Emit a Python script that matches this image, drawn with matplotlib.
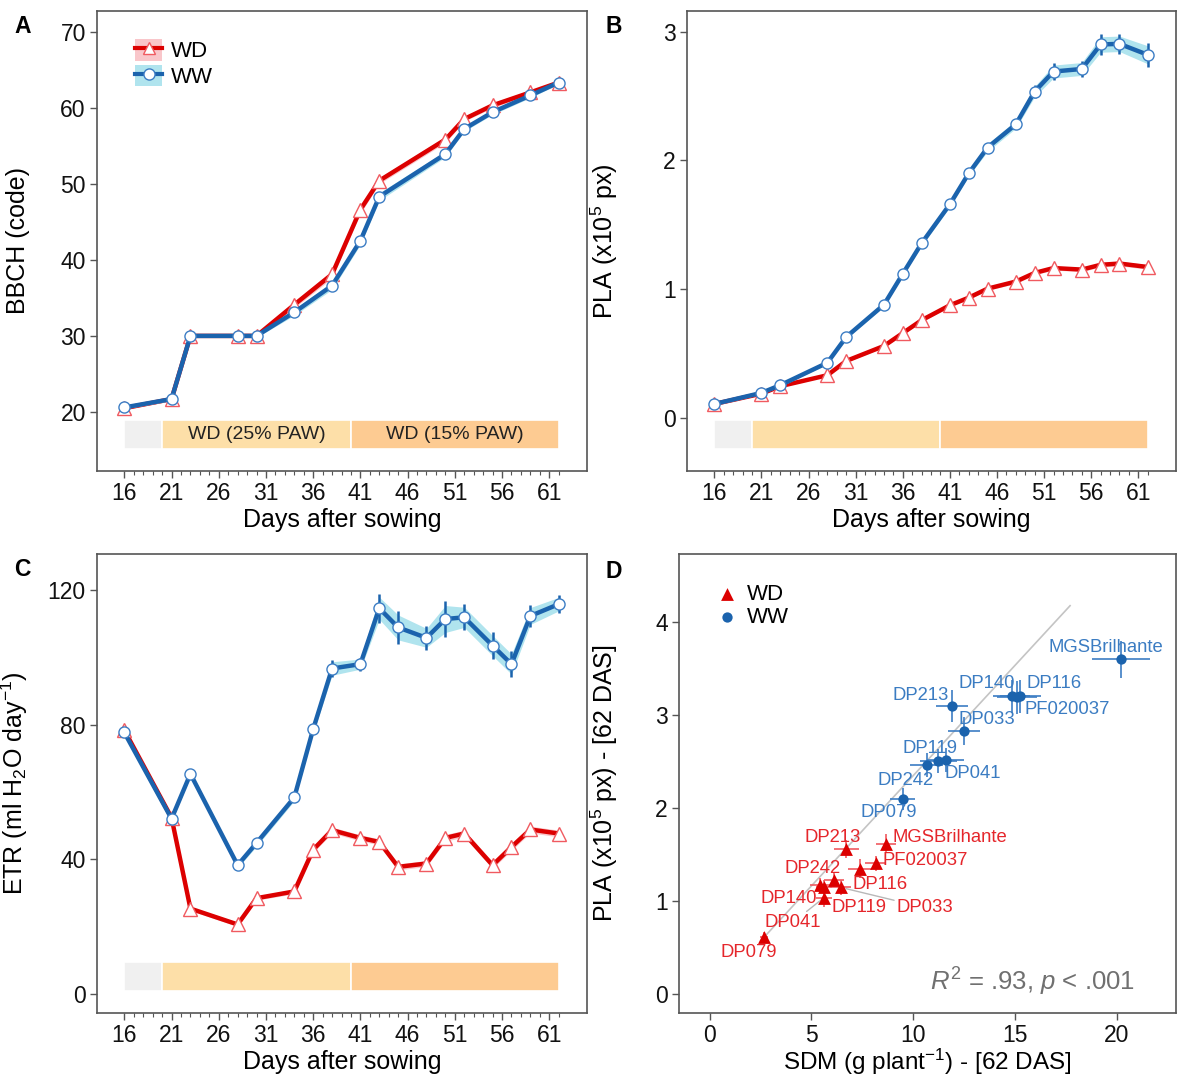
import numpy as np
import matplotlib
matplotlib.use("Agg")
import matplotlib.pyplot as plt
from matplotlib.patches import Patch, Rectangle
from matplotlib.lines import Line2D
from matplotlib.ticker import FixedLocator

plt.rcParams['font.family'] = ['Liberation Sans', 'DejaVu Sans']
plt.rcParams['mathtext.fontset'] = 'custom'
plt.rcParams['mathtext.rm'] = 'Liberation Sans'
plt.rcParams['mathtext.it'] = 'Liberation Sans:italic'
plt.rcParams['mathtext.default'] = 'regular'

# %% data ---------------------------------------------------------------
# BBCH scoring days and means (+ SE)
days_bbch = [16, 21, 23, 28, 30, 34, 38, 41, 43, 50, 52, 55, 59, 62]
bbch_wd = [20.5, 21.7, 30.0, 30.0, 30.0, 34.1, 38.1, 46.6, 50.4, 55.8, 58.5, 60.3, 62.0, 63.3]
bbch_ww = [20.6, 21.7, 30.0, 30.0, 30.0, 33.1, 36.6, 42.5, 48.3, 53.9, 57.2, 59.4, 61.6, 63.3]
bbch_wd_se = [0.2, 0.2, 0.2, 0.2, 0.2, 0.4, 0.5, 0.5, 0.4, 0.4, 0.3, 0.3, 0.3, 0.2]
bbch_ww_se = [0.2, 0.2, 0.2, 0.2, 0.2, 0.4, 0.5, 0.5, 0.5, 0.4, 0.3, 0.3, 0.3, 0.2]

# imaging days: projected leaf area and evapotranspiration
days = [16, 21, 23, 28, 30, 34, 36, 38, 41, 43, 45, 48, 50, 52, 55, 57, 59, 62]
pla_ww = [0.11, 0.196, 0.256, 0.43, 0.63, 0.88, 1.12, 1.357, 1.66, 1.90, 2.10, 2.28,
          2.535, 2.69, 2.71, 2.90, 2.905, 2.82]
pla_wd = [0.11, 0.19, 0.248, 0.333, 0.444, 0.56, 0.66, 0.76, 0.876, 0.935, 1.005, 1.06,
          1.127, 1.165, 1.153, 1.19, 1.20, 1.173]
pla_ww_se = [0.01, 0.01, 0.01, 0.012, 0.012, 0.015, 0.015, 0.02, 0.02, 0.02, 0.03, 0.03,
             0.04, 0.05, 0.05, 0.06, 0.06, 0.07]
pla_wd_se = [0.005, 0.006, 0.007, 0.008, 0.01, 0.01, 0.01, 0.012, 0.012, 0.013, 0.014,
             0.015, 0.015, 0.016, 0.016, 0.017, 0.018, 0.018]

etr_ww = [77.7, 52.1, 65.4, 38.3, 44.9, 58.4, 78.7, 96.7, 98.0, 114.6, 108.9, 105.8,
          111.4, 111.9, 103.5, 98.0, 112.3, 115.8]
etr_wd = [78.4, 52.4, 25.4, 20.7, 28.5, 30.5, 42.9, 48.7, 46.4, 45.2, 37.8, 38.8,
          46.4, 47.7, 38.3, 43.7, 48.9, 47.7]
etr_ww_se = [0.8, 0.8, 0.8, 0.8, 1.0, 1.0, 1.2, 2.0, 1.5, 3.3, 3.7, 2.8, 4.0, 3.0, 3.0,
             3.0, 2.5, 2.0]
etr_wd_se = [0.5, 0.6, 0.6, 0.6, 0.6, 0.7, 0.8, 0.9, 0.9, 0.9, 0.9, 0.9, 1.0, 1.0, 1.0,
             1.0, 1.0, 1.0]

# watering phases
phase_start = [16, 20, 40]
phase_end = [20, 40, 62]
phase_label = ['', 'WD (25% PAW)', 'WD (15% PAW)']
tick_days = [16, 21, 26, 31, 36, 41, 46, 51, 56, 61]

# genotype means at 62 DAS
genotypes = ['DP033', 'DP041', 'DP079', 'DP116', 'DP119', 'DP140', 'DP213', 'DP242',
             'MGSBrilhante', 'PF020037']
sdm_ww = [12.5, 11.6, 9.48, 15.25, 11.23, 14.84, 11.9, 10.66, 20.2, 15.1]
pla62_ww = [2.83, 2.52, 2.10, 3.20, 2.51, 3.20, 3.10, 2.46, 3.60, 3.19]
sdm_ww_se = [0.8, 0.9, 0.6, 1.0, 0.9, 0.9, 0.8, 0.8, 1.4, 1.0]
pla62_ww_se = [0.15, 0.13, 0.12, 0.18, 0.13, 0.18, 0.17, 0.13, 0.2, 0.18]
sdm_wd = [6.43, 5.62, 2.66, 7.38, 5.62, 5.44, 6.72, 6.10, 8.66, 8.15]
pla62_wd = [1.15, 1.04, 0.62, 1.35, 1.15, 1.17, 1.56, 1.23, 1.62, 1.41]
sdm_wd_se = [0.5, 0.4, 0.2, 0.6, 0.4, 0.5, 0.6, 0.5, 0.5, 0.5]
pla62_wd_se = [0.08, 0.1, 0.05, 0.1, 0.08, 0.08, 0.1, 0.08, 0.1, 0.08]

# linear fit PLA ~ SDM
fit_slope = 0.237
fit_intercept = -0.02
fit_span = [2.5, 17.7]

# %% styling -------------------------------------------------------------
RED = '#DC0000'
BLUE = '#1B63AD'
RED_EDGE = '#F05A60'
BLUE_EDGE = '#3C7DC4'
RED_BAND = '#F9C6CA'
BLUE_BAND = '#B0E4EE'
RED_TXT = '#E5262B'
BLUE_TXT = '#3B7CC2'
PHASE_COLORS = ['#F0F0F0', '#FDDFA8', '#FDCB92']
FRAME = '#555555'
TICK_FS = 16.5
TITLE_FS = 18

# label offsets (data units) for the genotype names
ww_offsets = {
    'MGSBrilhante': (-0.72, 0.13), 'DP116': (1.65, 0.14), 'DP140': (-1.24, 0.14),
    'PF020037': (2.45, -0.13), 'DP213': (-1.52, 0.11), 'DP033': (1.1, 0.12),
    'DP119': (-0.43, 0.13), 'DP041': (1.3, -0.15), 'DP242': (-1.02, -0.16),
    'DP079': (-0.66, -0.15),
}
wd_offsets = {
    'MGSBrilhante': (3.14, 0.07), 'DP213': (-0.69, 0.13), 'PF020037': (2.42, 0.03),
    'DP242': (-1.02, 0.12), 'DP116': (0.98, -0.17), 'DP140': (-1.55, -0.14),
    'DP119': (1.72, -0.22), 'DP033': (4.16, -0.22), 'DP041': (-1.55, -0.27),
    'DP079': (-0.73, -0.17),
}
wd_segments = ['DP033', 'DP041']


def style_frame(ax):
    for s in ax.spines.values():
        s.set_color(FRAME)
        s.set_linewidth(1.2)
    ax.tick_params(which='major', direction='out', length=5, width=1, color=FRAME,
                   labelsize=TICK_FS, labelcolor='#111111', pad=3)
    ax.tick_params(which='minor', direction='out', length=3, width=0.8, color=FRAME)


def draw_series(ax, x, y, se, color, band, marker, mec, ms, z):
    y = np.asarray(y, float)
    se = np.asarray(se, float)
    ax.fill_between(x, y - se, y + se, color=band, lw=0, zorder=z)
    ax.errorbar(x, y, yerr=se * 1.3, fmt='none', ecolor=color, elinewidth=1.8,
                capsize=0, zorder=z + 0.1)
    ax.plot(x, y, color=color, lw=3.2, solid_capstyle='round', zorder=z + 0.2)
    ax.plot(x, y, ls='none', marker=marker, ms=ms, mfc='white', mec=mec, mew=1.0,
            zorder=z + 0.3)


def setup_time_axis(ax, ylim, yticks, ylabel, phase_text=False):
    ax.set_xlim(13.1, 65.0)
    ax.set_ylim(*ylim)
    ax.xaxis.set_major_locator(FixedLocator(tick_days))
    ax.xaxis.set_minor_locator(FixedLocator(range(16, 63)))
    ax.set_yticks(yticks)
    style_frame(ax)
    ax.set_xlabel('Days after sowing', fontsize=TITLE_FS)
    ax.xaxis.set_label_coords(0.5, -0.08)
    ax.set_ylabel(ylabel, fontsize=TITLE_FS)
    ax.yaxis.set_label_coords(-0.137, 0.5)
    trans = ax.get_xaxis_transform()
    for x0, x1, c, lab in zip(phase_start, phase_end, PHASE_COLORS, phase_label):
        ax.add_patch(Rectangle((x0, 0.047), x1 - x0, 0.064, transform=trans,
                               facecolor=c, edgecolor='white', lw=1.2, zorder=1))
        if phase_text and lab:
            ax.text((x0 + x1) / 2, 0.079, lab, transform=trans, ha='center',
                    va='center', fontsize=14, color='#222222', zorder=2)


fig = plt.figure(figsize=(11.78, 10.77), dpi=100)
axA = fig.add_axes([0.0823, 0.5627, 0.416, 0.4271])
axB = fig.add_axes([0.5832, 0.5627, 0.4151, 0.4271])
axC = fig.add_axes([0.0823, 0.0594, 0.416, 0.4262])
axD = fig.add_axes([0.5764, 0.0594, 0.4219, 0.4262])

# A: phenology
draw_series(axA, days_bbch, bbch_wd, bbch_wd_se, RED, RED_BAND, '^', RED_EDGE, 10, 3)
draw_series(axA, days_bbch, bbch_ww, bbch_ww_se, BLUE, BLUE_BAND, 'o', BLUE_EDGE, 8, 4)
setup_time_axis(axA, (12.25, 72.7), [20, 30, 40, 50, 60, 70], 'BBCH (code)', True)
handles = [
    (Patch(facecolor=RED_BAND, edgecolor='none'),
     Line2D([0], [0], color=RED, lw=3, marker='^', ms=9, mfc='white', mec=RED_EDGE)),
    (Patch(facecolor=BLUE_BAND, edgecolor='none'),
     Line2D([0], [0], color=BLUE, lw=3, marker='o', ms=8, mfc='white', mec=BLUE_EDGE)),
]
axA.legend(handles, ['WD', 'WW'], loc='upper left', bbox_to_anchor=(0.06, 0.958),
           frameon=False, fontsize=16, handlelength=1.2, handleheight=1.1,
           labelspacing=0.1, handletextpad=0.4, borderaxespad=0)

# B: projected leaf area
draw_series(axB, days, pla_wd, pla_wd_se, RED, RED_BAND, '^', RED_EDGE, 10, 3)
draw_series(axB, days, pla_ww, pla_ww_se, BLUE, BLUE_BAND, 'o', BLUE_EDGE, 8, 4)
setup_time_axis(axB, (-0.41, 3.16), [0, 1, 2, 3], 'PLA (x10$^5$ px)')

# C: evapotranspiration
draw_series(axC, days, etr_wd, etr_wd_se, RED, RED_BAND, '^', RED_EDGE, 10, 3)
draw_series(axC, days, etr_ww, etr_ww_se, BLUE, BLUE_BAND, 'o', BLUE_EDGE, 8, 4)
setup_time_axis(axC, (-5.6, 130.7), [0, 40, 80, 120], 'ETR (ml H$_2$O day$^{-1}$)')

# D: PLA vs shoot dry mass at 62 DAS
xf = np.array(fit_span)
axD.plot(xf, fit_intercept + fit_slope * xf, color='#C4C4C4', lw=1.2, zorder=1)
axD.errorbar(sdm_wd, pla62_wd, xerr=sdm_wd_se, yerr=pla62_wd_se, fmt='none',
             ecolor=RED_EDGE, elinewidth=1.2, capsize=0, zorder=2)
axD.errorbar(sdm_ww, pla62_ww, xerr=sdm_ww_se, yerr=pla62_ww_se, fmt='none',
             ecolor=BLUE_EDGE, elinewidth=1.2, capsize=0, zorder=2)
axD.scatter(sdm_wd, pla62_wd, marker='^', s=85, color=RED, lw=0, zorder=3, label='WD')
axD.scatter(sdm_ww, pla62_ww, marker='o', s=55, color=BLUE, lw=0, zorder=3, label='WW')

for g, x, y in zip(genotypes, sdm_ww, pla62_ww):
    dx, dy = ww_offsets[g]
    axD.annotate(g, xy=(x, y), xytext=(x + dx, y + dy), ha='center', va='center',
                 fontsize=13.3, color=BLUE_TXT, zorder=4)
for g, x, y in zip(genotypes, sdm_wd, pla62_wd):
    dx, dy = wd_offsets[g]
    arrow = None
    if g in wd_segments:
        arrow = dict(arrowstyle='-', color='#B8B8B8', lw=1.0, shrinkA=0, shrinkB=4)
    axD.annotate(g, xy=(x, y), xytext=(x + dx, y + dy), ha='center', va='center',
                 fontsize=13.3, color=RED_TXT, zorder=4, arrowprops=arrow)

axD.text(0.711, 0.068, r'$\mathit{R}^2$ = .93, $\mathit{p}$ < .001', transform=axD.transAxes,
         ha='center', va='center', fontsize=18.5, color='#707070')
axD.set_xlim(-1.5, 22.9)
axD.set_ylim(-0.2, 4.73)
axD.set_xticks([0, 5, 10, 15, 20])
axD.set_yticks([0, 1, 2, 3, 4])
style_frame(axD)
axD.set_xlabel('SDM (g plant$^{-1}$) - [62 DAS]', fontsize=17.5)
axD.xaxis.set_label_coords(0.5, -0.073)
axD.set_ylabel('PLA (x10$^5$ px) - [62 DAS]', fontsize=TITLE_FS)
axD.yaxis.set_label_coords(-0.119, 0.5)
axD.legend(loc='upper left', bbox_to_anchor=(0.06, 0.955), frameon=False, fontsize=16,
           handlelength=0.8, handletextpad=0.5, labelspacing=0.1, borderaxespad=0,
           scatterpoints=1)

# panel letters
for lab, x, y in [('A', 0.012, 0.986), ('B', 0.514, 0.986), ('C', 0.012, 0.482),
                  ('D', 0.514, 0.480)]:
    fig.text(x, y, lab, fontsize=16.5, fontweight='bold', va='top', ha='left')

fig.savefig('out.png', dpi=100)
